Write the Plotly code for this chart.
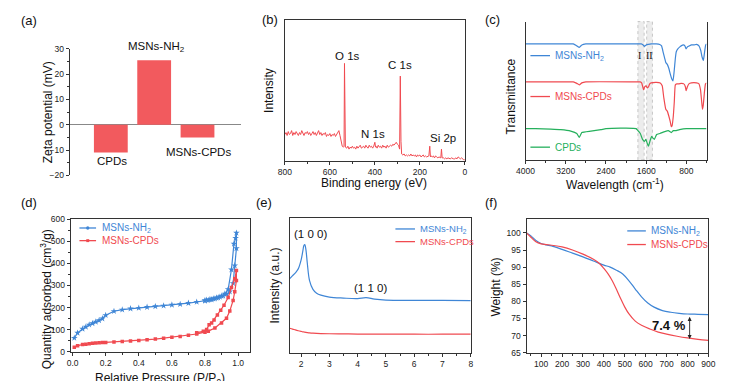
import plotly.graph_objects as go

W, H = 736, 381
def px(x): return x / W
def py(y): return 1 - y / H

BLUE = '#3f86d6'; RED = '#f04a50'; GREEN = '#25b05c'; BAR = '#f25a5e'
FONT = 'Arial, Liberation Sans, sans-serif'
AX = '#333333'

# ---------------- (a) zeta potential ----------------
zeta_cats = ['CPDs', 'MSNs-NH2', 'MSNs-CPDs']
zeta_vals = [-11.0, 25.5, -5.0]

# ---------------- (b) XPS survey ----------------
xps_be = [800,795,790,785,780,775,770,765,760,755,750,745,740,735,730,725,720,715,710,705,
          700,695,690,685,680,675,670,665,660,655,650,645,640,635,630,625,620,615,610,605,
          600,595,590,585,580,575,570,565,560,555,550,545,540,537,535,533,531,525,520,515,
          510,505,500,495,490,485,480,475,470,465,460,455,450,445,440,435,430,425,420,415,
          410,405,400,397,395,390,385,380,375,370,365,360,355,350,345,340,335,330,325,320,
          315,310,305,300,295,290,287,284,281,276,270,265,260,255,250,245,240,235,230,225,
          220,215,210,205,200,195,190,185,180,175,170,165,160,156,153,150,145,140,135,130,
          125,120,115,110,107,104,101,95,90,85,80,75,70,65,60,55,50,45,40,35,
          30,25,20,15,10,5,0]
xps_int = [27,29,26,30,27,28,31,26,29,27,30,28,26,29,27,31,28,26,29,28,
           30,27,29,26,28,30,27,29,26,28,31,27,29,26,28,27,29,25,27,26,
           28,25,27,26,28,25,27,29,31,26,18,15,14,15,100,40,14,13,15,12,
           14,13,15,13,14,12,15,13,14,16,13,14,15,13,16,14,13,16,14,15,
           13,15,19,14,15,13,16,14,15,13,16,14,15,13,16,14,15,16,15,17,
           16,18,19,17,16,12,87,20,7,6,7,5,6,5,6,5,7,5,6,5,
           6,4,6,5,6,4,5,6,4,5,4,5,5,15,4,5,4,5,3,5,
           4,3,4,3,3,12,3,3,2,3,2,3,2,2,3,2,2,2,3,2,
           4,3,2,3,2,1,1]
xps_labels = ['O 1s', 'C 1s', 'N 1s', 'Si 2p']

# ---------------- (c) FTIR ----------------
ir_nh2_x = [4000,3600,3300,3050,2980,2930,2880,2800,2400,2000,1800,1700,1660,1635,1600,1560,1500,1400,
            1330,1294,1260,1230,1210,1180,1150,1120,1090,1067,1045,1020,1001,970,930,904,860,830,806,
            780,741,700,650,600,550,513,490,462,440,416,400]
ir_nh2_y = [119,119,119,119,117,115.5,118,119,119,119,119,119,118,116.5,118,118.5,119,119,
            118.5,117,110,104,100,98,94,88,83,81,90,104,111,114,116,117,118,117,114,
            116,117,118,118,118.5,117,112,106,102,110,118,119]
ir_cpd_x = [4000,3500,3050,2980,2930,2880,2800,1800,1720,1690,1652,1630,1600,1580,1555,1530,1500,1400,
            1320,1281,1250,1210,1180,1150,1120,1100,1085,1060,1040,1020,990,950,900,850,820,806,
            780,750,700,600,550,520,500,481,465,440,420,400]
ir_cpd_y = [80,80,80,78.5,77,79,80,80,80,79,72,75,76,74,75,78,79,79.5,
            79,76,64,52,50,45,39,34,35,45,60,77,78,78,78.5,78,75,71,
            75,78,79,79,78,72,62,52,56,70,78,79]
ir_cp_x = [4000,3800,3500,3300,3100,2980,2930,2880,2700,2500,2400,2000,1800,1782,1717,1672,1633,1607,
           1580,1555,1520,1490,1460,1438,1392,1327,1230,1160,1100,1060,1020,937,800,600,400]
ir_cp_y = [32,32,31.5,31,29.5,27,23,28,29.5,31,32,32.5,32,31,27,21,19,21,
           17,14,20,24,22,21,26,27,29,30,28,30,30,31,32,32,32]
ir_bands = [(1640, 1765), (1475, 1590)]
ir_band_labels = ['I', 'II']

# ---------------- (d) N2 isotherms ----------------
iso_nh2_p = [0.01,0.03,0.06,0.08,0.10,0.12,0.14,0.16,0.18,0.20,0.25,0.30,0.35,0.40,0.45,0.50,0.55,
             0.60,0.65,0.70,0.75,0.80,0.82,0.84,0.86,0.88,0.90,0.92,0.94,0.96,0.975,0.985,0.99,
             0.99,0.98,0.97,0.95,0.93,0.91,0.89,0.87,0.85,0.83,0.81,0.80]
iso_nh2_q = [62,85,103,112,122,128,135,142,150,165,183,190,195,198,202,205,208,
             212,215,220,225,230,233,236,240,245,252,262,282,372,488,515,538,
             468,390,310,272,260,253,248,244,240,237,234,232]
iso_cpd_p = [0.01,0.03,0.06,0.08,0.10,0.12,0.14,0.16,0.18,0.20,0.25,0.30,0.35,0.40,0.45,0.50,0.55,
             0.60,0.65,0.70,0.75,0.80,0.82,0.86,0.90,0.93,0.95,0.97,0.98,0.99,
             0.99,0.98,0.96,0.94,0.915,0.895,0.875,0.855,0.84,0.825,0.81,0.79,0.75]
iso_cpd_q = [20,27,32,34,36,38,39,40,41,42,44,46,48,51,54,57,61,
             65,69,74,80,88,93,107,130,151,184,232,272,322,
             368,330,291,245,210,188,166,144,130,122,100,92,86]

# ---------------- (e) SAXS ----------------
saxs_x = [1.6,1.7,1.8,1.9,2.0,2.06,2.1,2.13,2.17,2.22,2.3,2.42,2.55,2.7,3.0,3.5,4.0,4.3,4.6,5.0,6.0,7.0,8.0]
saxs_nh2 = [76,79,82,86,95,104,110,111,106,92,74,65,61,59,57,56,55.5,56.5,55,54,53.7,53.6,53.5]
saxs_cpd = [25,24.2,23.3,22.5,21.8,21.4,21.2,21.0,20.8,20.6,20.3,20.0,19.8,19.6,19.4,19.2,19.1,19.0,19.0,19.0,18.9,18.9,18.9]

# ---------------- (f) TGA ----------------
tga_nh2_t = [30,50,75,100,125,150,200,250,300,350,400,430,460,490,520,550,580,610,640,680,720,760,800,850,900]
tga_nh2_w = [100,99.2,97.8,96.9,96.5,96.2,95.2,94.1,93.0,91.8,90.6,90.0,89.1,88.0,86.0,83.6,81.3,79.5,78.3,77.3,76.8,76.5,76.3,76.2,76.1]
tga_cpd_t = [30,50,75,100,125,150,200,250,300,350,380,400,420,440,460,480,500,520,550,580,620,660,700,750,800,850,900]
tga_cpd_w = [100,98.8,97.4,96.8,96.6,96.4,95.9,95.0,93.8,92.3,91.0,89.6,88.0,86.0,83.5,80.8,78.3,76.3,74.2,73.0,71.9,71.0,70.4,69.8,69.3,68.9,68.6]

fig = go.Figure()
fig.add_trace(go.Bar(x=zeta_cats, y=zeta_vals, marker_color=BAR, marker_line_width=0,
                     width=0.78, xaxis='x', yaxis='y'))
fig.add_trace(go.Scatter(x=xps_be, y=xps_int, mode='lines', line=dict(color=RED, width=1),
                         xaxis='x2', yaxis='y2'))
fig.add_trace(go.Scatter(x=ir_nh2_x, y=ir_nh2_y, mode='lines', line=dict(color=BLUE, width=1.2, shape='spline', smoothing=0.4),
                         xaxis='x3', yaxis='y3'))
fig.add_trace(go.Scatter(x=ir_cpd_x, y=ir_cpd_y, mode='lines', line=dict(color=RED, width=1.2, shape='spline', smoothing=0.4),
                         xaxis='x3', yaxis='y3'))
fig.add_trace(go.Scatter(x=ir_cp_x, y=ir_cp_y, mode='lines', line=dict(color=GREEN, width=1.2, shape='spline', smoothing=0.4),
                         xaxis='x3', yaxis='y3'))
fig.add_trace(go.Scatter(x=iso_nh2_p, y=iso_nh2_q, mode='lines+markers', line=dict(color=BLUE, width=1.2),
                         marker=dict(symbol='star', size=5, color=BLUE), xaxis='x4', yaxis='y4'))
fig.add_trace(go.Scatter(x=iso_cpd_p, y=iso_cpd_q, mode='lines+markers', line=dict(color=RED, width=1.2),
                         marker=dict(symbol='square', size=3.5, color=RED), xaxis='x4', yaxis='y4'))
fig.add_trace(go.Scatter(x=saxs_x, y=saxs_nh2, mode='lines', line=dict(color=BLUE, width=1.2, shape='spline'),
                         xaxis='x5', yaxis='y5'))
fig.add_trace(go.Scatter(x=saxs_x, y=saxs_cpd, mode='lines', line=dict(color=RED, width=1.2, shape='spline'),
                         xaxis='x5', yaxis='y5'))
fig.add_trace(go.Scatter(x=tga_nh2_t, y=tga_nh2_w, mode='lines', line=dict(color=BLUE, width=1.2, shape='spline'),
                         xaxis='x6', yaxis='y6'))
fig.add_trace(go.Scatter(x=tga_cpd_t, y=tga_cpd_w, mode='lines', line=dict(color=RED, width=1.2, shape='spline'),
                         xaxis='x6', yaxis='y6'))

def ax(**kw):
    d = dict(showline=True, linecolor=AX, linewidth=1, ticks='outside', ticklen=3, tickwidth=0.8,
             tickcolor=AX, tickfont=dict(size=8.5, color='#222', family=FONT), showgrid=False,
             zeroline=False, fixedrange=True)
    d.update(kw)
    return d

minor = lambda dt: dict(ticks='outside', ticklen=2, tickcolor=AX, dtick=dt, showgrid=False)

layout = dict(
    width=W, height=H, margin=dict(l=0, r=0, t=0, b=0), showlegend=False,
    paper_bgcolor='white', plot_bgcolor='white', font=dict(family=FONT, color='#111'),
    xaxis=ax(domain=[px(62), px(237)], anchor='y', visible=False, range=[-0.95, 3.0]),
    yaxis=ax(domain=[py(175), py(45)], anchor='x', range=[-20, 30], dtick=10, minor=minor(5),
             zeroline=True, zerolinecolor='#888', zerolinewidth=1),
    xaxis2=ax(domain=[px(282), px(466)], anchor='y2', range=[800, 0], dtick=200, minor=minor(100), mirror=True),
    yaxis2=ax(domain=[py(160), py(15)], anchor='x2', range=[0, 145], ticks='', showticklabels=False, mirror=True),
    xaxis3=ax(domain=[px(528), px(713)], anchor='y3', range=[4000, 400],
              tickvals=[4000, 3200, 2400, 1600, 800],
              minor=dict(ticks='outside', ticklen=2, tickcolor=AX, tickvals=[3600, 2800, 2000, 1200, 400])),
    yaxis3=ax(domain=[py(159), py(17)], anchor='x3', range=[0, 142], ticks='', showticklabels=False, mirror=True),
    xaxis4=ax(domain=[px(63), px(246)], anchor='y4', range=[-0.012, 1.07], dtick=0.2, tickformat='.1f',
              minor=minor(0.1), mirror=True),
    yaxis4=ax(domain=[py(356), py(220)], anchor='x4', range=[0, 600], dtick=100, minor=minor(50), mirror=True),
    xaxis5=ax(domain=[px(287), px(472)], anchor='y5', range=[1.6, 8], dtick=1, minor=minor(0.5), mirror=True),
    yaxis5=ax(domain=[py(357), py(219)], anchor='x5', range=[0, 138], ticks='', showticklabels=False, mirror=True),
    xaxis6=ax(domain=[px(529), px(715)], anchor='y6', range=[30, 900], tick0=0, dtick=100, minor=minor(50), mirror=True),
    yaxis6=ax(domain=[py(357), py(220)], anchor='x6', range=[65, 104],
              tickvals=[65, 70, 75, 80, 85, 90, 95, 100], mirror=True),
)
fig.update_layout(**layout)

ann = []
def text(x, y, t, size=12, color='#111', xanchor='center', yanchor='middle', angle=0, bold=False, family=FONT):
    if bold:
        t = '<b>' + t + '</b>'
    ann.append(dict(x=px(x), y=py(y), xref='paper', yref='paper', text=t, showarrow=False,
                    font=dict(size=size, color=color, family=family), xanchor=xanchor, yanchor=yanchor,
                    textangle=angle))

# panel labels
for lab, x, y in [('(a)', 20, 16), ('(b)', 267, 15), ('(c)', 494, 15),
                  ('(d)', 20, 203), ('(e)', 261, 203), ('(f)', 493, 203)]:
    text(x, y, lab, size=13)

# axis titles
text(40, 110, 'Zeta potential (mV)', size=12, angle=-90)
text(265, 88, 'Intensity', size=12, angle=-90)
text(373, 183, 'Binding energy (eV)', size=12)
text(513, 94, 'Transmittance', size=12, angle=-90)
text(619, 184, 'Wavelength (cm<sup>-1</sup>)', size=12)
text(38, 302, 'Quantity adsorbed (cm<sup>3</sup>/g)', size=12, angle=-90)
text(154, 374, 'Relative Pressure (P/P<sub>0</sub>)', size=12, yanchor='top')
text(272, 288, 'Intensity (a.u.)', size=12, angle=-90)
text(498, 290, 'Weight (%)', size=12, angle=-90)

# (a) bar labels
text(151, 43, 'MSNs-NH<sub>2</sub>', size=11.5)
text(105, 160, zeta_cats[0], size=11.5)
text(194, 151, zeta_cats[2], size=11.5)

# (b) peak labels
for lab, x, y in zip(xps_labels, [346, 400, 372, 444], [52, 62, 132, 137]):
    text(x, y, lab, size=11.5)

# (c) legend + band labels
for lab, col, y in [('MSNs-NH<sub>2</sub>', BLUE, 52), ('MSNs-CPDs', RED, 94), ('CPDs', GREEN, 146)]:
    text(556, y, lab, size=10, color=col, xanchor='left')
text(645, 52, ir_band_labels[0], size=10, family='Liberation Serif, Times New Roman, serif')
text(655, 52, ir_band_labels[1], size=10, family='Liberation Serif, Times New Roman, serif')

# (d) legend
text(93, 229, 'MSNs-NH<sub>2</sub>', size=10, color=BLUE, xanchor='left')
text(93, 242, 'MSNs-CPDs', size=10, color=RED, xanchor='left')

# (e) legend + peaks
text(418, 230, 'MSNs-NH<sub>2</sub>', size=9.5, color=BLUE, xanchor='left')
text(418, 243, 'MSNs-CPDs', size=9.5, color=RED, xanchor='left')
text(308, 235, '(1 0 0)', size=11.5)
text(370, 291, '(1 1 0)', size=11.5)

# (f) legend + difference
text(654, 232, 'MSNs-NH<sub>2</sub>', size=10, color=BLUE, xanchor='left')
text(654, 246, 'MSNs-CPDs', size=10, color=RED, xanchor='left')
text(675, 329, '7.4 %', size=13, bold=True)
ann.append(dict(x=810, y=69.0, ax=810, ay=75.9, xref='x6', yref='y6', axref='x6', ayref='y6',
                text='', showarrow=True, arrowhead=2, arrowside='end+start', arrowsize=0.9,
                arrowwidth=0.9, arrowcolor='#222'))

shapes = []
def seg(x0, x1, y, col, w=1.3):
    shapes.append(dict(type='line', xref='paper', yref='paper', x0=px(x0), x1=px(x1), y0=py(y), y1=py(y),
                       line=dict(color=col, width=w)))
# (c) band rectangles
for b0, b1 in ir_bands:
    shapes.append(dict(type='rect', xref='x3', yref='y3 domain', x0=b0, x1=b1, y0=0, y1=1,
                       fillcolor='rgba(200,200,200,0.35)', line=dict(color='#b5b5b5', width=0.7, dash='dot'),
                       layer='below'))
for col, y in [(BLUE, 52), (RED, 94), (GREEN, 146)]:
    seg(533, 553, y, col)
# (d) legend samples with markers
seg(72, 89, 229, BLUE); seg(72, 89, 242, RED)
shapes.append(dict(type='circle', xref='paper', yref='paper', x0=px(78.8), x1=px(82.2), y0=py(230.7), y1=py(227.3),
                   fillcolor=BLUE, line=dict(color=BLUE, width=0)))
shapes.append(dict(type='rect', xref='paper', yref='paper', x0=px(79), x1=px(82), y0=py(243.5), y1=py(240.5),
                   fillcolor=RED, line=dict(color=RED, width=0)))
# (e), (f) legend samples
seg(395, 415, 230, BLUE); seg(395, 415, 243, RED)
seg(632, 651, 232, BLUE); seg(632, 651, 246, RED)

fig.update_layout(annotations=ann, shapes=shapes)
fig.write_html('out.html', config={'displayModeBar': False},
               post_script="document.body.style.margin='0';document.body.style.overflow='hidden';")
